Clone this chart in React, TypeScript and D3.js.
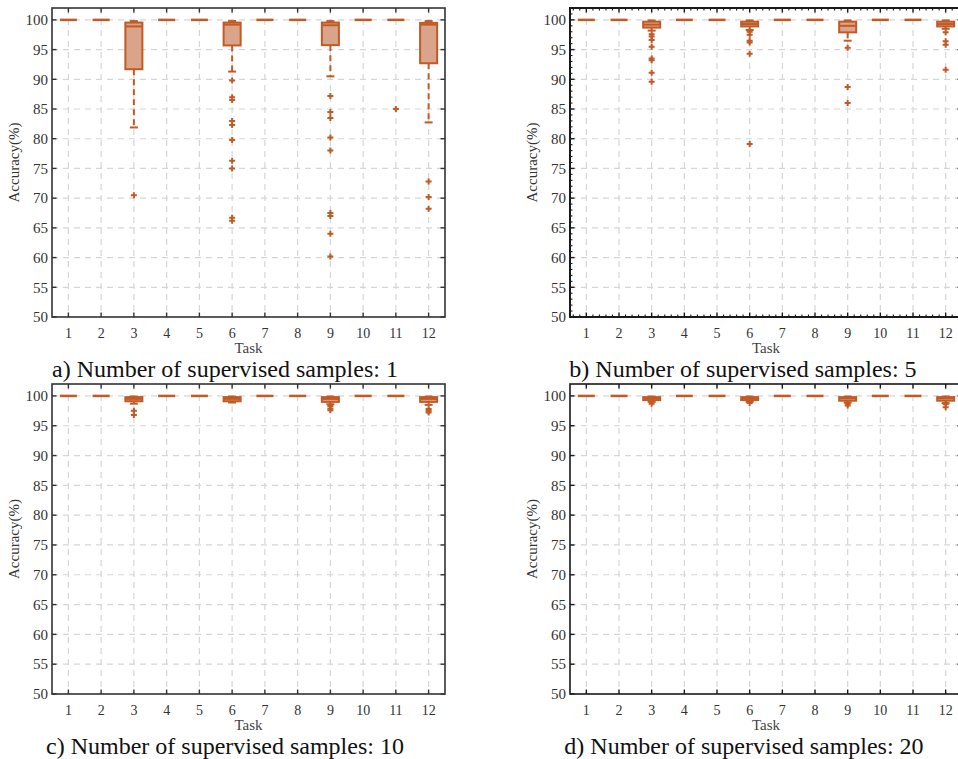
import React from 'react';
import * as d3 from 'd3';

// tasks on the x axis
const tasks = [1, 2, 3, 4, 5, 6, 7, 8, 9, 10, 11, 12];
const yTicks = [50, 55, 60, 65, 70, 75, 80, 85, 90, 95, 100];
const captions = [
  'a) Number of supervised samples: 1',
  'b) Number of supervised samples: 5',
  'c) Number of supervised samples: 10',
  'd) Number of supervised samples: 20',
];

// samples = 1
const q1A = [100, 100, 91.7, 100, 100, 95.7, 100, 100, 95.75, 100, 100, 92.7];
const medA = [100, 100, 98.9, 100, 100, 99.2, 100, 100, 99.1, 100, 100, 99.2];
const q3A = [100, 100, 99.55, 100, 100, 99.55, 100, 100, 99.55, 100, 100, 99.5];
const loA = [100, 100, 81.9, 100, 100, 91.3, 100, 100, 90.5, 100, 100, 82.75];
const hiA = [100, 100, 99.8, 100, 100, 99.8, 100, 100, 99.8, 100, 100, 99.8];
const outA = [
  [], [], [70.5], [], [],
  [89.8, 87.0, 86.5, 83.0, 82.3, 79.8, 76.3, 75.0, 66.7, 66.2],
  [], [],
  [87.2, 84.5, 83.5, 80.2, 78.0, 67.5, 67.0, 64.0, 60.2],
  [], [85.0], [72.8, 70.2, 68.2],
];

// samples = 5
const q1B = [100, 100, 98.7, 100, 100, 98.9, 100, 100, 97.9, 100, 100, 98.9];
const medB = [100, 100, 99.2, 100, 100, 99.3, 100, 100, 99.0, 100, 100, 99.3];
const q3B = [100, 100, 99.7, 100, 100, 99.7, 100, 100, 99.7, 100, 100, 99.7];
const loB = [100, 100, 98.2, 100, 100, 98.3, 100, 100, 96.5, 100, 100, 98.5];
const hiB = [100, 100, 99.9, 100, 100, 99.9, 100, 100, 99.9, 100, 100, 99.9];
const outB = [
  [], [], [97.6, 97.2, 96.6, 95.5, 93.5, 93.2, 91.1, 89.6], [], [],
  [98.0, 97.5, 96.5, 96.2, 94.3, 79.1], [], [],
  [95.3, 88.7, 86.0], [], [], [97.9, 96.4, 95.8, 91.6],
];

// samples = 10
const q1C = [100, 100, 99.1, 100, 100, 99.1, 100, 100, 99.0, 100, 100, 99.0];
const medC = [100, 100, 99.5, 100, 100, 99.5, 100, 100, 99.5, 100, 100, 99.5];
const q3C = [100, 100, 99.8, 100, 100, 99.8, 100, 100, 99.8, 100, 100, 99.8];
const loC = [100, 100, 98.7, 100, 100, 98.9, 100, 100, 98.6, 100, 100, 98.5];
const hiC = [100, 100, 99.9, 100, 100, 99.9, 100, 100, 99.9, 100, 100, 99.9];
const outC = [
  [], [], [97.5, 96.8], [], [], [], [], [],
  [98.3, 97.9, 97.6], [], [], [97.8, 97.5, 97.2],
];

// samples = 20
const q1D = [100, 100, 99.3, 100, 100, 99.3, 100, 100, 99.2, 100, 100, 99.2];
const medD = [100, 100, 99.6, 100, 100, 99.6, 100, 100, 99.6, 100, 100, 99.6];
const q3D = [100, 100, 99.8, 100, 100, 99.8, 100, 100, 99.8, 100, 100, 99.8];
const loD = [100, 100, 99.0, 100, 100, 99.0, 100, 100, 98.9, 100, 100, 98.8];
const hiD = [100, 100, 99.9, 100, 100, 99.9, 100, 100, 99.9, 100, 100, 99.9];
const outD = [
  [], [], [98.7], [], [], [98.8], [], [],
  [98.7, 98.4], [], [], [98.6, 98.1],
];

const ORANGE = '#C25A26';
const FILL = '#D9A48A';
const FONT = 'Liberation Serif, serif';

function Panel({ left, top, right, bottom, q1, med, q3, lo, hi, out, caption, capX, labelX, minor, frame }) {
  const x = d3.scaleLinear().domain([0.5, 12.5]).range([left, right]);
  const y = d3.scaleLinear().domain([50, 102]).range([bottom, top]);
  const unit = x(2) - x(1);
  const bw = unit * 0.52;
  const cap = 4;
  const major = 4.5;
  const minorLen = 2.5;
  const xMinor = minor ? d3.range(0.6, 12.5, 0.2).filter(v => Math.abs(v - Math.round(v)) > 0.01) : [];
  const yMinor = minor ? d3.range(51, 102, 1).filter(v => v % 5 !== 0) : [];
  const txt = { fontFamily: FONT };

  return (
    <g>
      {/* grid */}
      {tasks.map(t => (
        <line key={'gx' + t} x1={x(t)} x2={x(t)} y1={top} y2={bottom} stroke="#d6d6d6" strokeWidth={1.2} strokeDasharray="6,5" />
      ))}
      {yTicks.slice(1).map(v => (
        <line key={'gy' + v} x1={left} x2={right} y1={y(v)} y2={y(v)} stroke="#d6d6d6" strokeWidth={1.2} strokeDasharray="6,5" />
      ))}

      {/* boxes */}
      {tasks.map((t, i) => {
        const cx = x(t);
        if (q1[i] === q3[i]) {
          return (
            <g key={'b' + t}>
              <line x1={cx - bw / 2} x2={cx + bw / 2} y1={y(med[i])} y2={y(med[i])} stroke={ORANGE} strokeWidth={2.5} />
            </g>
          );
        }
        return (
          <g key={'b' + t}>
            <line x1={cx} x2={cx} y1={y(q1[i])} y2={y(lo[i])} stroke={ORANGE} strokeWidth={2} strokeDasharray="6,4" />
            <line x1={cx - cap} x2={cx + cap} y1={y(lo[i])} y2={y(lo[i])} stroke={ORANGE} strokeWidth={2} />
            <line x1={cx} x2={cx} y1={y(q3[i])} y2={y(hi[i])} stroke={ORANGE} strokeWidth={2} />
            <line x1={cx - cap} x2={cx + cap} y1={y(hi[i])} y2={y(hi[i])} stroke={ORANGE} strokeWidth={2} />
            <rect x={cx - bw / 2} y={y(q3[i])} width={bw} height={y(q1[i]) - y(q3[i])} fill={FILL} stroke={ORANGE} strokeWidth={2} />
            <line x1={cx - bw / 2} x2={cx + bw / 2} y1={y(med[i])} y2={y(med[i])} stroke={ORANGE} strokeWidth={2} />
          </g>
        );
      })}

      {/* outliers */}
      {tasks.map((t, i) =>
        out[i].map((v, j) => (
          <path key={'o' + t + '-' + j} d={`M${x(t) - 3},${y(v)}h6M${x(t)},${y(v) - 3}v6`} stroke={ORANGE} strokeWidth={2} fill="none" />
        ))
      )}

      {/* frame */}
      <rect x={left} y={top} width={right - left} height={bottom - top} fill="none" stroke={frame} strokeWidth={minor ? 2 : 1.6} />

      {/* ticks, inward on all sides */}
      {tasks.map(t => (
        <g key={'tx' + t}>
          <line x1={x(t)} x2={x(t)} y1={bottom} y2={bottom - major} stroke={frame} strokeWidth={1.4} />
          <line x1={x(t)} x2={x(t)} y1={top} y2={top + major} stroke={frame} strokeWidth={1.4} />
        </g>
      ))}
      {yTicks.map(v => (
        <g key={'ty' + v}>
          <line x1={left} x2={left + major} y1={y(v)} y2={y(v)} stroke={frame} strokeWidth={1.4} />
          <line x1={right} x2={right - major} y1={y(v)} y2={y(v)} stroke={frame} strokeWidth={1.4} />
        </g>
      ))}
      {xMinor.map(v => (
        <g key={'mx' + v}>
          <line x1={x(v)} x2={x(v)} y1={bottom} y2={bottom - minorLen} stroke={frame} strokeWidth={1.1} />
          <line x1={x(v)} x2={x(v)} y1={top} y2={top + minorLen} stroke={frame} strokeWidth={1.1} />
        </g>
      ))}
      {yMinor.map(v => (
        <g key={'my' + v}>
          <line x1={left} x2={left + minorLen} y1={y(v)} y2={y(v)} stroke={frame} strokeWidth={1.1} />
          <line x1={right} x2={right - minorLen} y1={y(v)} y2={y(v)} stroke={frame} strokeWidth={1.1} />
        </g>
      ))}

      {/* tick labels */}
      {yTicks.map(v => (
        <text key={'ly' + v} x={left - 4} y={y(v)} dy="0.35em" textAnchor="end" fontSize={15} fill="#333" style={txt}>
          {v}
        </text>
      ))}
      {tasks.map(t => (
        <text key={'lx' + t} x={x(t)} y={bottom + 21} textAnchor="middle" fontSize={14} fill="#333" style={txt}>
          {t}
        </text>
      ))}
      <text x={(left + (left + 12 * unit)) / 2} y={bottom + 36} textAnchor="middle" fontSize={15} fill="#444" style={txt}>
        Task
      </text>
      <text transform={`translate(${labelX},${(top + bottom) / 2}) rotate(-90)`} textAnchor="middle" fontSize={15} fill="#333" style={txt}>
        Accuracy(%)
      </text>
      <text x={capX} y={bottom + 60} textAnchor="middle" fontSize={24} fill="#111" style={txt}>
        {caption}
      </text>
    </g>
  );
}

export default function App() {
  return (
    <svg width={958} height={759} style={{ position: 'absolute', left: 0, top: 0, background: '#fff' }}>
      <Panel left={52} top={8} right={445} bottom={317} q1={q1A} med={medA} q3={q3A} lo={loA} hi={hiA} out={outA}
        caption={captions[0]} capX={225} labelX={19} minor={false} frame="#333" />
      <Panel left={570} top={8} right={962} bottom={317} q1={q1B} med={medB} q3={q3B} lo={loB} hi={hiB} out={outB}
        caption={captions[1]} capX={743} labelX={537} minor={true} frame="#1a1a1a" />
      <Panel left={52} top={384} right={445} bottom={694} q1={q1C} med={medC} q3={q3C} lo={loC} hi={hiC} out={outC}
        caption={captions[2]} capX={225} labelX={19} minor={false} frame="#333" />
      <Panel left={570} top={384} right={962} bottom={694} q1={q1D} med={medD} q3={q3D} lo={loD} hi={hiD} out={outD}
        caption={captions[3]} capX={744} labelX={537} minor={false} frame="#1a1a1a" />
    </svg>
  );
}
